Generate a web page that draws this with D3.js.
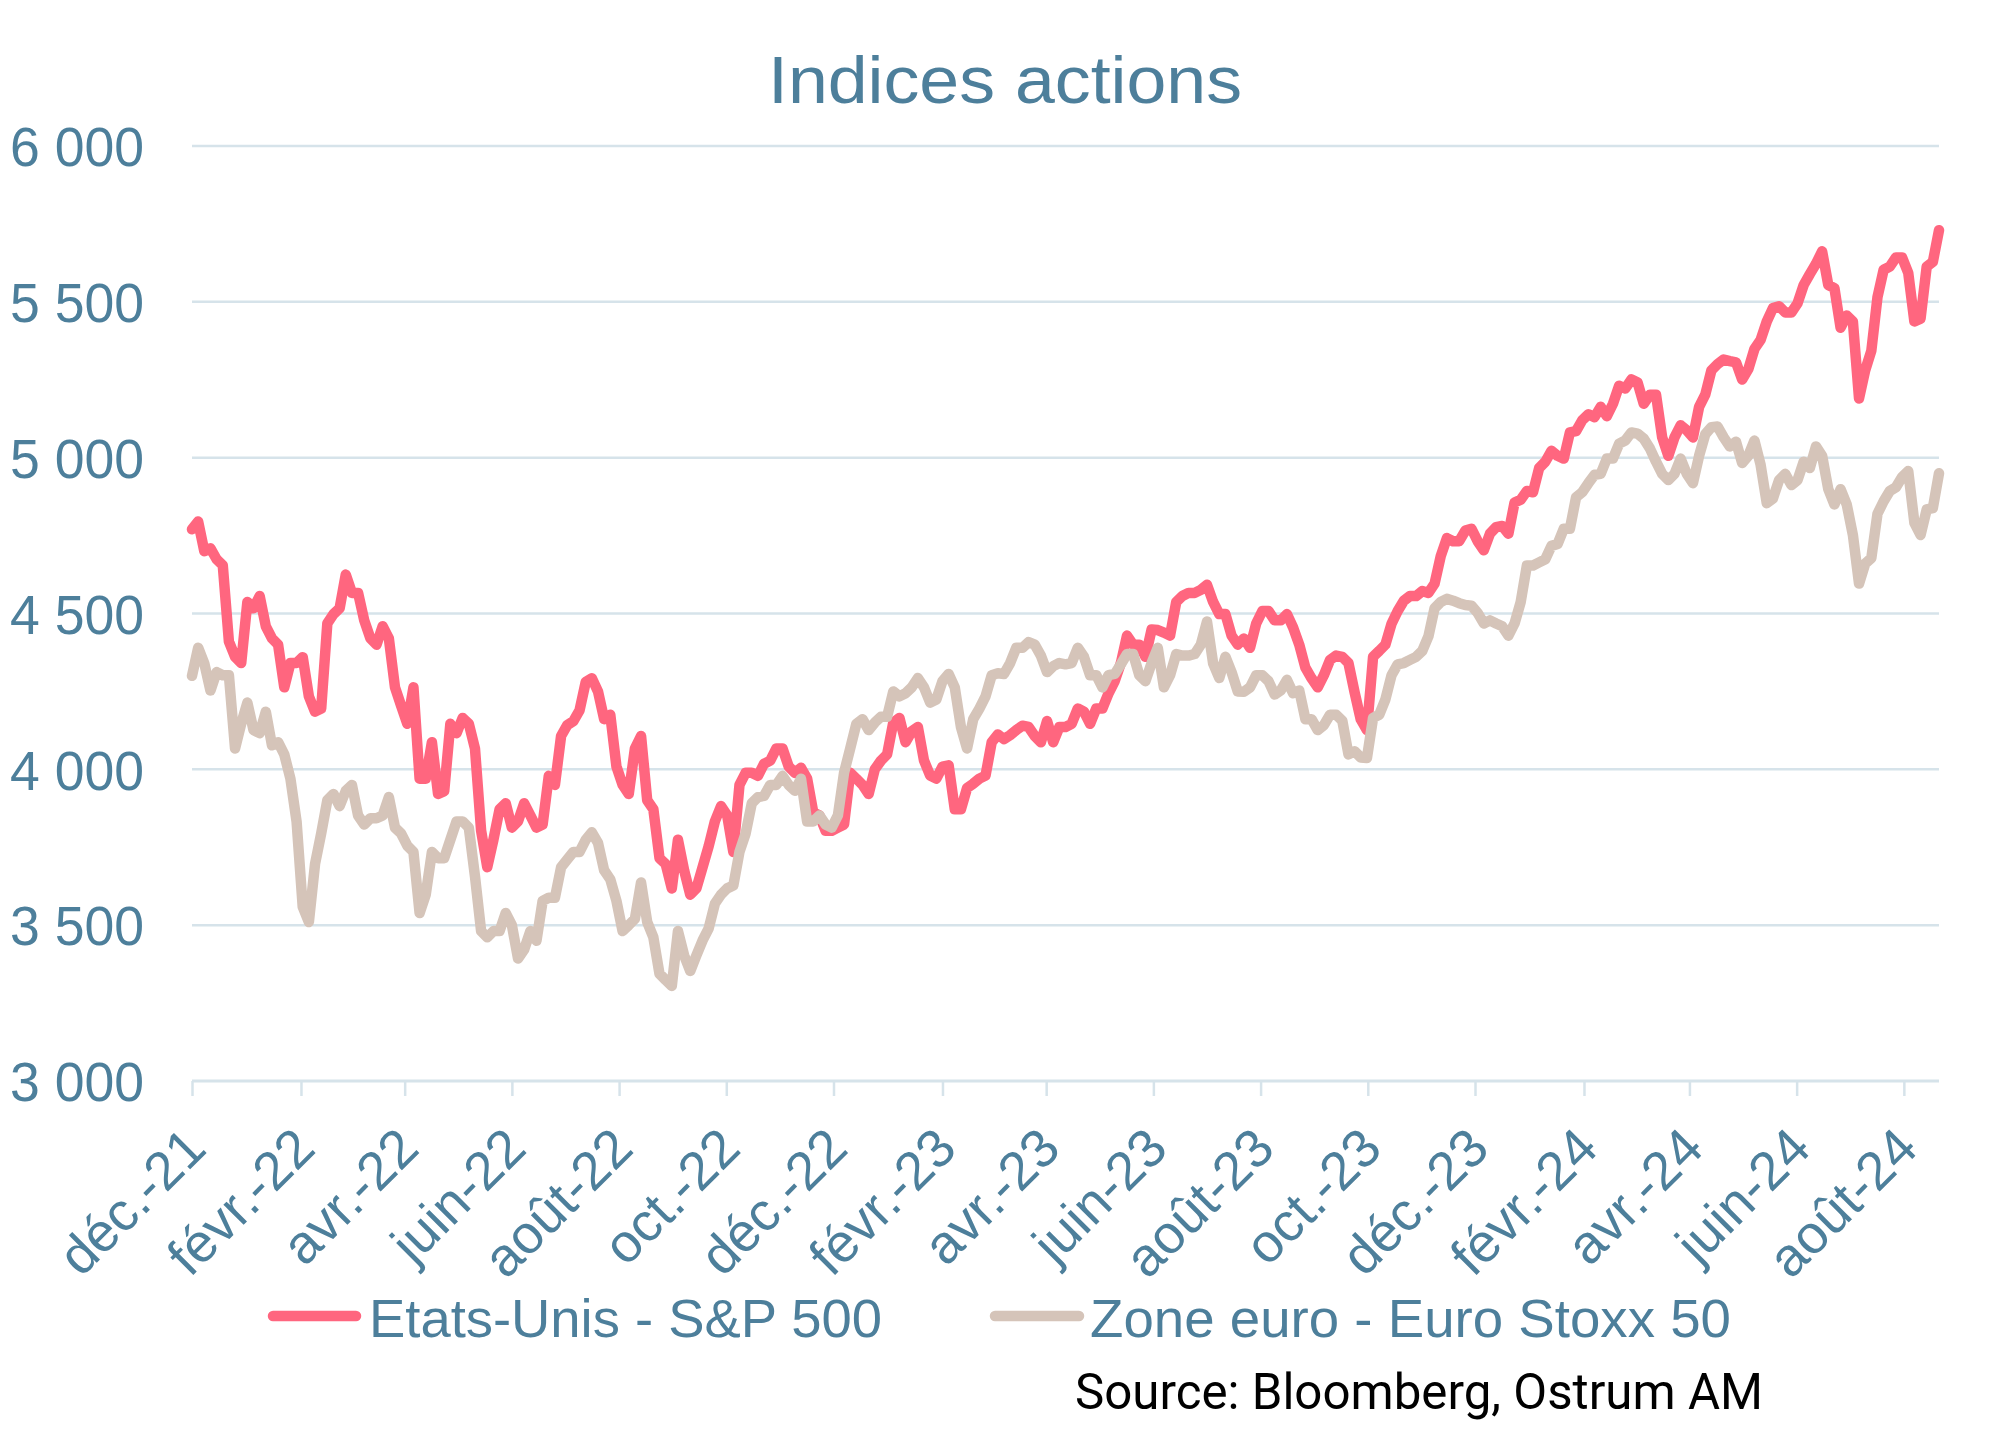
<!DOCTYPE html>
<html>
<head>
<meta charset="utf-8">
<script src="https://cdn.jsdelivr.net/npm/d3@7"></script>
<style>
  html, body { margin: 0; padding: 0; background: #ffffff; }
  svg { display: block; }
</style>
</head>
<body>
<svg id="chart" width="2010" height="1453"></svg>
<script>
// ---------------- DATA ----------------
const title = "Indices actions";
const seriesNames = ["Etats-Unis - S&P 500", "Zone euro - Euro Stoxx 50"];
const sourceText = "Source: Bloomberg, Ostrum AM";

const startDate = "2021-12-01";   // first observation
const endDate = "2024-08-21";     // last observation
const stepHours = 84;             // one reading every half week

const tickDates = ["2021-12-01","2022-02-01","2022-04-01","2022-06-01","2022-08-01","2022-10-01",
  "2022-12-01","2023-02-01","2023-04-01","2023-06-01","2023-08-01","2023-10-01",
  "2023-12-01","2024-02-01","2024-04-01","2024-06-01","2024-08-01"];
const tickLabels = ["déc.-21","févr.-22","avr.-22","juin-22","août-22","oct.-22",
  "déc.-22","févr.-23","avr.-23","juin-23","août-23","oct.-23",
  "déc.-23","févr.-24","avr.-24","juin-24","août-24"];

const yTicks = [3000, 3500, 4000, 4500, 5000, 5500, 6000];
const yTickLabels = ["3 000","3 500","4 000","4 500","5 000","5 500","6 000"];

// half-weekly readings, S&P 500
const spx = [
  4770,4795, 4700,4709, 4674,4655, 4410,4361, 4341,4537,
  4517,4556, 4459,4420, 4400,4263, 4341,4341, 4360,4234,
  4185,4195, 4468,4498, 4517,4625, 4566,4566, 4478,4420,
  4400,4459, 4420,4263, 4204,4146, 4263,3970, 3970,4087,
  3921,3930, 4146,4116, 4165,4146, 4067,3803, 3686,3774,
  3872,3891, 3813,3833, 3891,3852, 3813,3823, 3979,3950,
  4107,4142, 4155,4189, 4280,4292, 4250,4161, 4175,4009,
  3950,3921, 4067,4107, 3901,3872, 3715,3696, 3618,3774,
  3676,3598, 3618,3686, 3754,3833, 3882,3852, 3735,3950,
  3989,3989, 3979,4018, 4028,4067, 4067,4009, 3989,4005,
  3970,3862, 3852,3803, 3803,3813, 3823,3989, 3970,3950,
  3921,4000, 4028,4048, 4150,4165, 4087,4122, 4136,4028,
  3980,3970, 4009,4013, 3872,3872, 3940,3954, 3970,3980,
  4087,4112, 4097,4110, 4126,4140, 4136,4107, 4087,4155,
  4087,4136, 4136,4146, 4195,4185, 4146,4195, 4195,4244,
  4283,4341, 4429,4400, 4400,4361, 4449,4447, 4439,4429,
  4537,4556, 4566,4566, 4576,4592, 4537,4498, 4498,4429,
  4400,4420, 4390,4468, 4508,4508, 4478,4478, 4498,4455,
  4400,4326, 4292,4263, 4302,4351, 4365,4361, 4341,4247,
  4160,4126, 4361,4380, 4400,4467, 4508,4541, 4556,4556,
  4572,4566, 4596,4684, 4742,4732, 4732,4766, 4772,4732,
  4703,4756, 4777,4781, 4756,4856, 4865,4893, 4889,4967,
  4987,5022, 5006,4997, 5081,5085, 5120,5139, 5130,5163,
  5133,5173, 5231,5222, 5251,5241, 5173,5202, 5202,5065,
  5006,5065, 5104,5088, 5065,5163, 5202,5280, 5300,5315,
  5310,5306, 5251,5284, 5349,5378, 5437,5480, 5486,5466,
  5466,5495, 5554,5589, 5622,5662, 5554,5544, 5417,5456,
  5437,5190, 5280,5343, 5515,5603, 5613,5642, 5642,5593,
  5437,5446, 5613,5628, 5730
];

// half-weekly readings, Euro Stoxx 50
const sx5e = [
  4300,4390, 4340,4253, 4312,4302, 4302,4067, 4146,4214,
  4126,4116, 4185,4077, 4087,4048, 3970,3833, 3559,3510,
  3696,3794, 3901,3921, 3882,3931, 3950,3852, 3823,3843,
  3843,3852, 3911,3813, 3794,3755, 3735,3539, 3598,3735,
  3715,3715, 3774,3833, 3833,3813, 3657,3481, 3461,3481,
  3481,3539, 3500,3393, 3422,3481, 3450,3578, 3588,3588,
  3686,3711, 3735,3735, 3774,3798, 3764,3676, 3647,3578,
  3481,3500, 3520,3637, 3510,3461, 3344,3324, 3305,3481,
  3403,3353, 3403,3451, 3490,3569, 3598,3618, 3627,3735,
  3794,3891, 3911,3915, 3950,3950, 3979,3950, 3931,3970,
  3833,3833, 3852,3823, 3813,3852, 3989,4067, 4146,4161,
  4126,4150, 4169,4169, 4250,4234, 4244,4263, 4293,4263,
  4214,4224, 4283,4306, 4263,4136, 4067,4161, 4195,4234,
  4302,4308, 4306,4341, 4390,4390, 4408,4400, 4365,4312,
  4331,4341, 4337,4341, 4390,4361, 4302,4302, 4263,4302,
  4306,4337, 4370,4370, 4302,4283, 4341,4390, 4263,4302,
  4370,4365, 4365,4370, 4400,4474, 4340,4293, 4361,4312,
  4250,4249, 4263,4302, 4302,4283, 4240,4253, 4287,4244,
  4253,4161, 4161,4126, 4142,4175, 4175,4156, 4048,4058,
  4038,4036, 4165,4175, 4224,4302, 4337,4341, 4351,4361,
  4380,4427, 4517,4537, 4547,4541, 4533,4527, 4525,4502,
  4468,4478, 4468,4459, 4429,4468, 4537,4654, 4654,4664,
  4674,4717, 4723,4772, 4772,4873, 4889,4918, 4945,4948,
  4997,4997, 5045,5055, 5081,5077, 5061,5030, 4987,4948,
  4928,4948, 4997,4948, 4918,5006, 5075,5098, 5100,5065,
  5036,5051, 4983,5006, 5055,4977, 4854,4869, 4928,4948,
  4912,4928, 4987,4967, 5036,5006, 4899,4850, 4899,4850,
  4752,4596, 4660,4678, 4820,4860, 4893,4905, 4938,4957,
  4791,4752, 4834,4838, 4950
];

// ---------------- LAYOUT / STYLE ----------------
const textColor = "#4d7f9b";
const gridColor = "#d6e3ea";
const colors = ["#ff667f", "#d5c4b9"];
const labelFont = "'Liberation Sans', Arial, sans-serif";

const parse = d3.timeParse("%Y-%m-%d");
const d0 = parse(startDate);
const dates = spx.map((_, i) => d3.timeHour.offset(d0, stepHours * i));

const svg = d3.select("#chart");
const plot = { left: 192, right: 1939, top: 146, bottom: 1081 };

const x = d3.scaleTime()
  .domain([parse(startDate), parse(endDate)])
  .range([plot.left, plot.right]);
const y = d3.scaleLinear()
  .domain([3000, 6000])
  .range([plot.bottom, plot.top]);

// Title
svg.append("text")
  .attr("x", 768).attr("y", 103)
  .attr("textLength", 474).attr("lengthAdjust", "spacingAndGlyphs")
  .attr("font-family", labelFont).attr("font-size", 66)
  .attr("fill", textColor)
  .text(title);

// Gridlines
svg.append("g").selectAll("line")
  .data(yTicks.filter(v => v > 3000))
  .join("line")
  .attr("x1", plot.left).attr("x2", plot.right)
  .attr("y1", d => y(d)).attr("y2", d => y(d))
  .attr("stroke", gridColor).attr("stroke-width", 2.5);

// Y axis labels
const yAxis = d3.axisLeft(y)
  .tickValues(yTicks)
  .tickSize(0)
  .tickPadding(0)
  .tickFormat((d, i) => yTickLabels[i]);
const gy = svg.append("g").attr("transform", "translate(144,0)").call(yAxis);
gy.select(".domain").remove();
gy.selectAll("text")
  .attr("font-family", labelFont).attr("font-size", 55)
  .attr("fill", textColor)
  .attr("dy", "0.36em")
  .attr("textLength", 134).attr("lengthAdjust", "spacingAndGlyphs");

// X axis
const tickDateObjs = tickDates.map(parse);
const xAxis = d3.axisBottom(x)
  .tickValues(tickDateObjs)
  .tickSize(15)
  .tickSizeOuter(0)
  .tickFormat((d, i) => tickLabels[i]);
const gx = svg.append("g").attr("transform", `translate(0,${plot.bottom})`).call(xAxis);
gx.select(".domain").attr("stroke", gridColor).attr("stroke-width", 3)
  .attr("d", `M${plot.left},0H${plot.right}`);
gx.selectAll(".tick line").attr("stroke", gridColor).attr("stroke-width", 2.5);
gx.selectAll(".tick text")
  .attr("font-family", labelFont).attr("font-size", 54)
  .attr("fill", textColor)
  .attr("text-anchor", "end")
  .attr("y", 0).attr("dy", 0)
  .attr("transform", "translate(16,70) rotate(-45)");

// Lines (S&P first, Euro Stoxx on top)
const line = d3.line()
  .x((d, i) => x(dates[i]))
  .y(d => y(d));
[spx, sx5e].forEach((s, i) => {
  svg.append("path")
    .datum(s)
    .attr("d", line)
    .attr("fill", "none")
    .attr("stroke", colors[i])
    .attr("stroke-width", 10.5)
    .attr("stroke-linejoin", "round")
    .attr("stroke-linecap", "round");
});

// Legend
const legend = [
  { x1: 273, x2: 356, tx: 369, tl: 513 },
  { x1: 995, x2: 1079, tx: 1090, tl: 641 }
];
legend.forEach((l, i) => {
  svg.append("line")
    .attr("x1", l.x1).attr("x2", l.x2)
    .attr("y1", 1316).attr("y2", 1316)
    .attr("stroke", colors[i]).attr("stroke-width", 10.5)
    .attr("stroke-linecap", "round");
  svg.append("text")
    .attr("x", l.tx).attr("y", 1337)
    .attr("textLength", l.tl).attr("lengthAdjust", "spacingAndGlyphs")
    .attr("font-family", labelFont).attr("font-size", 54)
    .attr("fill", textColor)
    .text(seriesNames[i]);
});

// Source
svg.append("text")
  .attr("x", 1075).attr("y", 1409)
  .attr("textLength", 688).attr("lengthAdjust", "spacingAndGlyphs")
  .attr("font-family", "Roboto, 'Liberation Sans', sans-serif").attr("font-size", 50)
  .attr("fill", "#000000")
  .text(sourceText);
</script>
</body>
</html>
